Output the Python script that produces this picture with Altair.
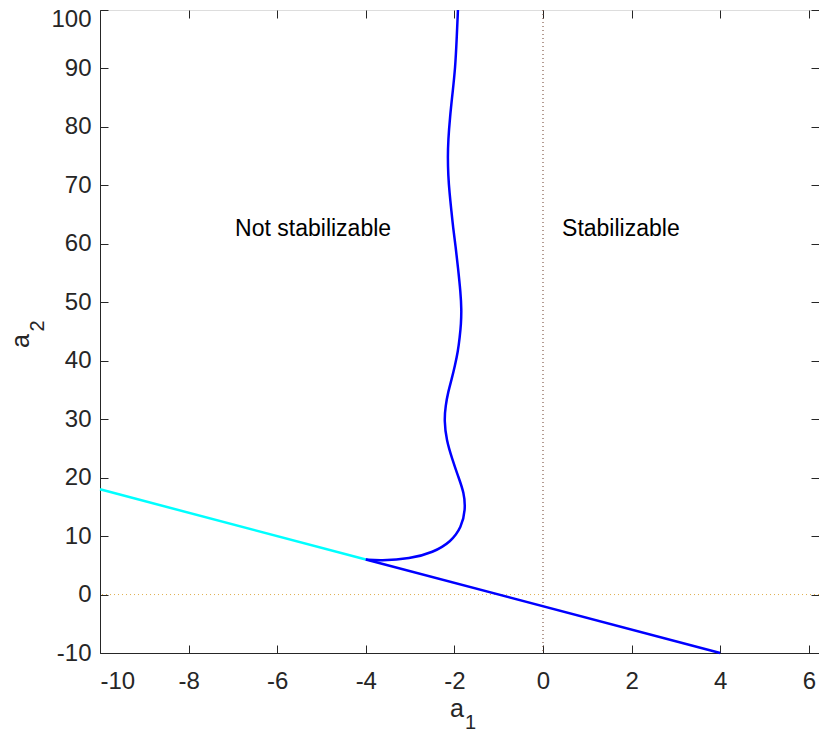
import altair as alt
import pandas as pd

# ---- data ----
curve_x = [-4.0, -3.68, -3.00, -2.48, -2.08, -1.84, -1.75, -1.78, -1.92, -2.05, -2.18, -2.23,
           -2.20, -2.14, -2.06, -1.99, -1.92, -1.88, -1.85, -1.84, -1.86, -1.92, -1.97, -2.03,
           -2.07, -2.11, -2.14, -2.15, -2.14, -2.10, -2.04, -1.98, -1.95, -1.92]
curve_y = [6.0, 5.8, 6.1, 7.2, 9.0, 11.5, 14.5, 17.4, 20.3, 23.2, 26.4, 29.8,
           32.3, 34.7, 36.9, 39.1, 41.6, 44.0, 46.3, 48.8, 51.6, 56.0, 59.4, 62.8,
           65.8, 68.7, 71.7, 74.8, 77.7, 81.7, 85.9, 90.2, 94.8, 100.0]
cyan_x = [-10, -4]
cyan_y = [18, 6]
blue_x = [-4, 4]
blue_y = [6, -10]
x_ticks = [-10, -8, -6, -4, -2, 0, 2, 4, 6]
y_ticks = [-10, 0, 10, 20, 30, 40, 50, 60, 70, 80, 90, 100]
label_text = ["Not stabilizable", "Stabilizable"]
label_x = [-6.95, 0.43]
label_y = [62.6, 62.6]

X_DOMAIN = [-10, 6.23]
Y_DOMAIN = [-10, 100]
W, H = 719, 643
FONT = "Liberation Sans"
AX = "#262626"

xs = alt.Scale(domain=X_DOMAIN, nice=False, zero=False)
ys = alt.Scale(domain=Y_DOMAIN, nice=False, zero=False)

curve_df = pd.DataFrame({"x": curve_x, "y": curve_y, "i": list(range(len(curve_x)))})
cyan_df = pd.DataFrame({"x": cyan_x, "y": cyan_y})
blue_df = pd.DataFrame({"x": blue_x, "y": blue_y})
lab_df = pd.DataFrame({"t": label_text, "x": label_x, "y": label_y})
anchor_df = pd.DataFrame({"x": [X_DOMAIN[0]], "y": [Y_DOMAIN[0]]})

lbl_expr = "'' + datum.value"

# main axes with labels and domain lines
axis_main = alt.Chart(anchor_df).mark_point(opacity=0).encode(
    x=alt.X("x:Q", scale=xs, axis=alt.Axis(orient="bottom", values=x_ticks, ticks=False, tickSize=0,
                                          domain=True, domainColor=AX, domainWidth=1, grid=False,
                                          labelFont=FONT, labelFontSize=24, labelColor=AX,
                                          labelPadding=16, labelExpr=lbl_expr, title=None)),
    y=alt.Y("y:Q", scale=ys, axis=alt.Axis(orient="left", values=y_ticks, ticks=False, tickSize=0,
                                          domain=True, domainColor=AX, domainWidth=1, grid=False,
                                          labelFont=FONT, labelFontSize=24, labelColor=AX,
                                          labelPadding=9, labelExpr=lbl_expr, title=None,
                                          labelOffset={"condition": {"test": "datum.value == 100", "value": 9},
                                                       "value": 0})),
)


def tick_axis(xo, yo):
    return alt.Chart(anchor_df).mark_point(opacity=0).encode(
        x=alt.X("x:Q", scale=xs, axis=alt.Axis(orient=xo, values=x_ticks, labels=False, domain=False,
                                              ticks=True, tickSize=8, tickColor=AX, tickWidth=1,
                                              offset=-8, grid=False, title=None)),
        y=alt.Y("y:Q", scale=ys, axis=alt.Axis(orient=yo, values=y_ticks, labels=False, domain=False,
                                              ticks=True, tickSize=8, tickColor=AX, tickWidth=1,
                                              offset=-8, grid=False, title=None)),
    )


ticks_bl = tick_axis("bottom", "left")
ticks_tr = tick_axis("top", "right")

vline = alt.Chart(pd.DataFrame({"x": [0]})).mark_rule(
    color="#6B3A28", strokeWidth=1, strokeDash=[1, 3]
).encode(x=alt.X("x:Q", scale=xs, axis=None))

hline = alt.Chart(pd.DataFrame({"y": [0]})).mark_rule(
    color="#E0B050", strokeWidth=1, strokeDash=[1, 3]
).encode(y=alt.Y("y:Q", scale=ys, axis=None))

cyan_line = alt.Chart(cyan_df).mark_line(color="#00FFFF", strokeWidth=2.5).encode(
    x=alt.X("x:Q", scale=xs, axis=None), y=alt.Y("y:Q", scale=ys, axis=None))

blue_line = alt.Chart(blue_df).mark_line(color="#0000FF", strokeWidth=2.5).encode(
    x=alt.X("x:Q", scale=xs, axis=None), y=alt.Y("y:Q", scale=ys, axis=None))

curve = alt.Chart(curve_df).mark_line(color="#0000FF", strokeWidth=2.5, interpolate="basis").encode(
    x=alt.X("x:Q", scale=xs, axis=None), y=alt.Y("y:Q", scale=ys, axis=None),
    order=alt.Order("i:Q"))

labels = alt.Chart(lab_df).mark_text(font=FONT, fontSize=23, color="black", align="left",
                                     baseline="middle").encode(
    x=alt.X("x:Q", scale=xs, axis=None), y=alt.Y("y:Q", scale=ys, axis=None), text="t:N")

# axis titles with subscripts
xt_a = alt.Chart(anchor_df).mark_text(text="a", font=FONT, fontSize=25, color=AX, align="left",
                                      baseline="alphabetic").encode(x=alt.value(350), y=alt.value(707))
xt_1 = alt.Chart(anchor_df).mark_text(text="1", font=FONT, fontSize=20, color=AX, align="left",
                                      baseline="alphabetic").encode(x=alt.value(365), y=alt.value(719))
yt_a = alt.Chart(anchor_df).mark_text(text="a", font=FONT, fontSize=25, color=AX, align="center",
                                      baseline="alphabetic", angle=270).encode(x=alt.value(-71), y=alt.value(331))
yt_2 = alt.Chart(anchor_df).mark_text(text="2", font=FONT, fontSize=20, color=AX, align="center",
                                      baseline="alphabetic", angle=270).encode(x=alt.value(-56), y=alt.value(316))

chart = alt.layer(
    axis_main, ticks_bl, ticks_tr, vline, hline, cyan_line, blue_line, curve, labels,
    xt_a, xt_1, yt_a, yt_2
).resolve_axis(x="independent", y="independent").properties(
    width=W, height=H,
    autosize=alt.AutoSizeParams(type="none"),
    padding={"left": 92, "top": 2, "right": 0, "bottom": 81},
).configure_view(stroke=AX, strokeWidth=1).configure(background="white")

chart.save("out.html", embed_options={"renderer": "svg", "actions": False})
